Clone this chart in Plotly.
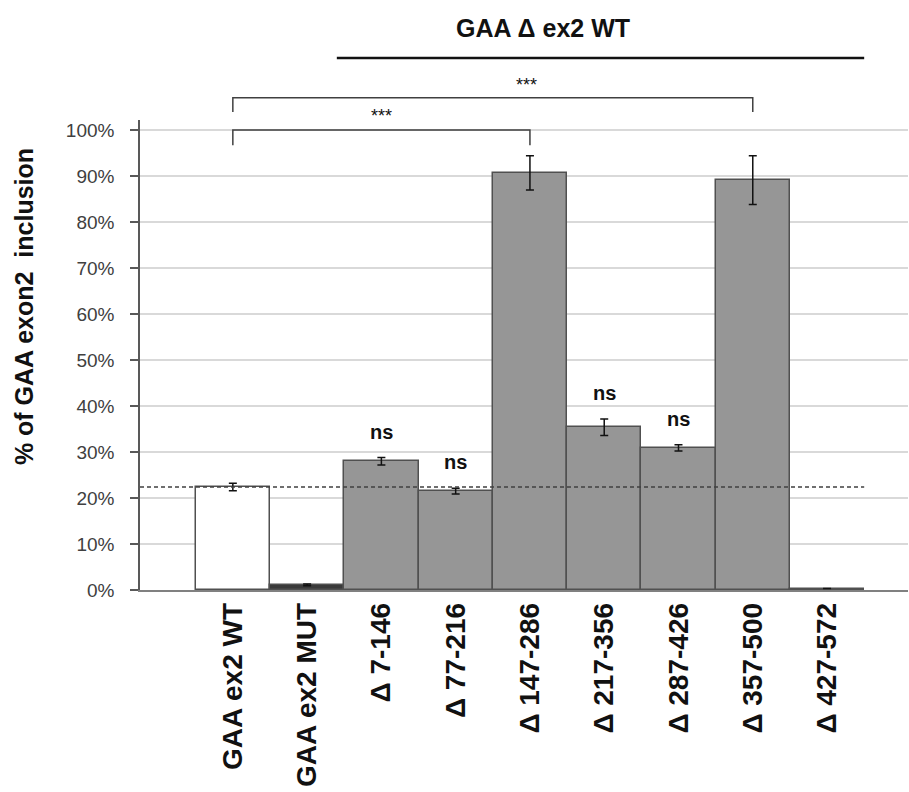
import plotly.graph_objects as go

# Exon 2 inclusion per minigene construct
categories = ["GAA ex2 WT", "GAA ex2 MUT", "Δ 7-146", "Δ 77-216", "Δ 147-286",
              "Δ 217-356", "Δ 287-426", "Δ 357-500", "Δ 427-572"]
inclusion = [22.4, 1.1, 28.0, 21.5, 90.7, 35.4, 30.9, 89.1, 0.3]
sem = [0.8, 0.2, 0.8, 0.6, 3.7, 1.8, 0.7, 5.3, 0.0]
ns_groups = ["Δ 7-146", "Δ 77-216", "Δ 217-356", "Δ 287-426"]
y_ticks = [0, 10, 20, 30, 40, 50, 60, 70, 80, 90, 100]
y_tick_text = [f"{v}%" for v in y_ticks]

FONT = "Arial, Liberation Sans, sans-serif"
fills = ["#ffffff", "#3a3a3a"] + ["#969696"] * (len(categories) - 2)

fig = go.Figure()
fig.add_trace(go.Bar(
    x=categories, y=inclusion,
    marker=dict(color=fills, line=dict(color="#505050", width=1.5)),
    error_y=dict(type="data", array=sem, color="#111111", thickness=1.5, width=4),
    width=1.0, showlegend=False,
))

# reference level of the wild-type construct
wt = inclusion[0]
fig.add_shape(type="line", xref="x", yref="y", x0=-1.25, x1=8.5, y0=wt, y1=wt,
              line=dict(color="#404040", width=1.5, dash="4px,3px"), layer="above")

# "ns" marks above the error bars
for cat in ns_groups:
    i = categories.index(cat)
    fig.add_annotation(x=cat, y=inclusion[i] + sem[i], text="<b>ns</b>", showarrow=False,
                       yanchor="bottom", yshift=13, font=dict(family=FONT, size=20, color="#111111"))

# significance brackets
bracket_color = "#404040"
# WT vs Δ 147-286
fig.add_shape(type="path", xref="x", yref="y", path="M 0,96.7 L 0,100 L 4,100 L 4,96.7",
              line=dict(color=bracket_color, width=1.5))
fig.add_annotation(x=2, y=1.008, xref="x", yref="paper", text="***", showarrow=False,
                   xanchor="center", yanchor="middle",
                   font=dict(family=FONT, size=18, color="#111111"))
# WT vs Δ 357-500
fig.add_shape(type="path", xref="x", yref="paper",
              path="M 0,1.017 L 0,1.0474 L 7,1.0474 L 7,1.017",
              line=dict(color=bracket_color, width=1.5))
fig.add_annotation(x=3.95, y=1.074, xref="x", yref="paper", text="***", showarrow=False,
                   xanchor="center", yanchor="middle",
                   font=dict(family=FONT, size=18, color="#111111"))

# group header
fig.add_annotation(x=0.525, y=1.195, xref="paper", yref="paper", text="<b>GAA Δ ex2 WT</b>",
                   showarrow=False, xanchor="center", yanchor="middle",
                   font=dict(family=FONT, size=25, color="#111111"))
fig.add_shape(type="line", xref="x", yref="paper", x0=1.4, x1=8.5, y0=1.132, y1=1.132,
              line=dict(color="#111111", width=2.5))

# y-axis title
fig.add_annotation(x=-0.151, y=0.602, xref="paper", yref="paper",
                   text="<b>% of GAA exon2  inclusion</b>", textangle=-90, showarrow=False,
                   xanchor="center", yanchor="middle",
                   font=dict(family=FONT, size=25, color="#111111"))

fig.update_layout(
    width=909, height=792,
    margin=dict(l=140, r=1, t=120, b=202),
    paper_bgcolor="white", plot_bgcolor="white",
    bargap=0,
    xaxis=dict(
        type="category", range=[-1.25, 9.09],
        tickangle=-90, ticks="", showgrid=False,
        tickfont=dict(family=FONT, size=28, color="#111111", weight="bold"),
        showline=True, linecolor="#808080", linewidth=1.5,
    ),
    yaxis=dict(
        range=[0, 102.2], tickmode="array", tickvals=y_ticks, ticktext=y_tick_text,
        tickfont=dict(family=FONT, size=19, color="#404040"),
        ticks="outside", ticklen=8, tickcolor="#595959", tickwidth=1.5,
        showline=True, linecolor="#595959", linewidth=1.5,
        showgrid=True, gridcolor="#d9d9d9", gridwidth=1.5,
        zeroline=False, ticklabelstandoff=12,
    ),
)

fig.write_html("out.html")
